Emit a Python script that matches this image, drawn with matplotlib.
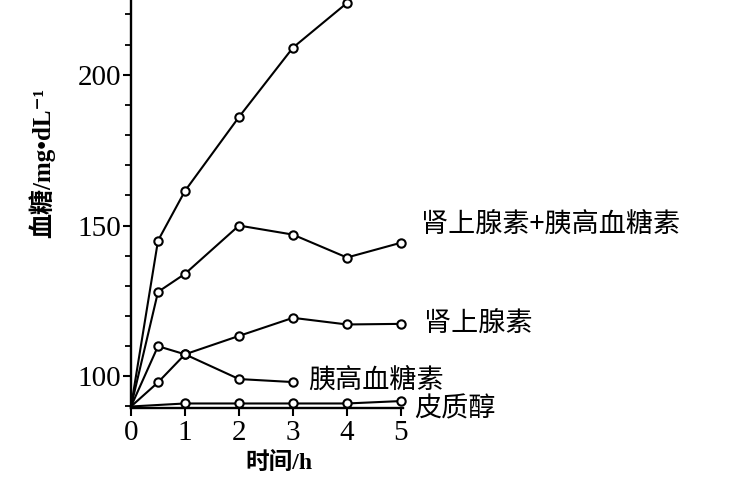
import numpy as np
import matplotlib
from matplotlib import pyplot as plt
from matplotlib.ticker import MultipleLocator

matplotlib.rcParams['font.family'] = ['Liberation Serif', 'Noto Sans CJK SC']

# blood sugar (mg/dL) vs time (h)
t_all = [0, 0.5, 1, 2, 3, 4]
all_three = [90, 145, 161.5, 186, 209, 223.8]
t = [0, 0.5, 1, 2, 3, 4, 5]
epi_glu = [90, 128, 134, 150, 147, 139.4, 144.3]
epi = [90, 98, 107.3, 113.4, 119.4, 117.2, 117.4]
t_glu = [0, 0.5, 1, 2, 3]
glu = [90, 110, 107.3, 99.1, 98.1]
t_cort = [0, 1, 2, 3, 4, 5]
cortisol = [90, 91, 91, 91, 91, 91.8]

labels = ['肾上腺素+胰高血糖素', '肾上腺素', '胰高血糖素', '皮质醇']
cjk = ['Noto Sans CJK SC', 'DejaVu Sans']
mixed = ['Liberation Serif', 'Noto Sans CJK SC', 'DejaVu Sans']

fig = plt.figure(figsize=(7.5, 5), dpi=100)
ax = fig.add_axes([0.1747, 0.184, 0.362, 0.816])

style = dict(color='black', lw=1.5, marker='o', ms=6, mfc='white',
             mec='black', mew=1.5, clip_on=False, zorder=3,
             markevery=slice(1, None))
ax.plot(t_all, all_three, **style)
ax.plot(t, epi_glu, **style)
ax.plot(t, epi, **style)
ax.plot(t_glu, glu, **style)
ax.plot(t_cort, cortisol, **style)

ax.set_xlim(0, 5.03)
ax.set_ylim(89.5, 224.8)
for s in ('top', 'right'):
    ax.spines[s].set_visible(False)
for s in ('left', 'bottom'):
    ax.spines[s].set_linewidth(1.7)

ax.set_xticks(range(6))
ax.set_yticks([100, 150, 200])
ax.yaxis.set_minor_locator(MultipleLocator(10))
ax.tick_params(axis='both', which='major', labelsize=21, width=1.5)
ax.tick_params(axis='y', which='major', length=6, pad=1)
ax.tick_params(axis='x', which='major', length=6, pad=3)
ax.tick_params(axis='y', which='minor', length=4, width=1.3)

ax.text(-0.33, 0.6, '血糖/mg•dL⁻¹', transform=ax.transAxes,
        rotation=90, ha='center', va='center', fontsize=18,
        fontweight='bold', family=mixed)
ax.text(0.545, -0.134, '时间/h', transform=ax.transAxes, ha='center',
        va='center', fontsize=17, fontweight='bold', family=mixed)

# curve labels
ax.text(5.37, 150.5, labels[0], ha='left', va='center', fontsize=19.5,
        family=cjk, clip_on=False)
ax.text(5.42, 117.4, labels[1], ha='left', va='center', fontsize=19.5,
        family=cjk, clip_on=False)
ax.text(3.29, 98.7, labels[2], ha='left', va='center', fontsize=19.5,
        family=cjk, clip_on=False)
ax.text(5.24, 89.3, labels[3], ha='left', va='center', fontsize=19.5,
        family=cjk, clip_on=False)

plt.savefig('out.png', dpi=100)
